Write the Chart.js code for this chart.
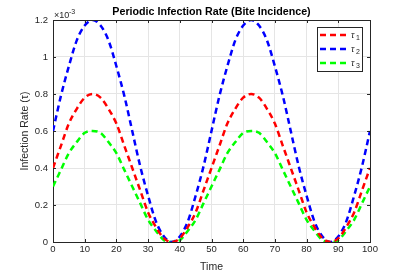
<!DOCTYPE html>
<html>
<head>
<meta charset="utf-8">
<script src="https://cdn.jsdelivr.net/npm/chart.js@4"></script>
<style>
  html, body { margin: 0; padding: 0; background: #fff; }
  #wrap { width: 409px; height: 273px; }
</style>
</head>
<body>
<div id="wrap"><canvas id="c" width="409" height="273"></canvas></div>
<script>
// values in units of 1e-3
const timePoints = [0, 2.5, 5, 7.5, 10, 12.5, 15, 17.5, 20, 22.5, 25, 27.5, 30, 32.5, 35, 37.5, 40, 42.5, 45, 47.5,
                    50, 52.5, 55, 57.5, 60, 62.5, 65, 67.5, 70, 72.5, 75, 77.5, 80, 82.5, 85, 87.5, 90, 92.5, 95, 97.5, 100];
const tau1 = [0.40, 0.52, 0.64, 0.72, 0.78, 0.80, 0.78, 0.72, 0.64, 0.52, 0.40, 0.28, 0.16, 0.08, 0.02, 0.00, 0.02, 0.08, 0.16, 0.28,
              0.40, 0.52, 0.64, 0.72, 0.78, 0.80, 0.78, 0.72, 0.64, 0.52, 0.40, 0.28, 0.16, 0.08, 0.02, 0.00, 0.02, 0.08, 0.16, 0.28, 0.40];
const tau2 = [0.60, 0.79, 0.95, 1.09, 1.17, 1.20, 1.17, 1.09, 0.95, 0.79, 0.60, 0.41, 0.25, 0.11, 0.03, 0.00, 0.03, 0.11, 0.25, 0.41,
              0.60, 0.79, 0.95, 1.09, 1.17, 1.20, 1.17, 1.09, 0.95, 0.79, 0.60, 0.41, 0.25, 0.11, 0.03, 0.00, 0.03, 0.11, 0.25, 0.41, 0.60];
const tau3 = [0.30, 0.39, 0.48, 0.54, 0.59, 0.60, 0.59, 0.54, 0.48, 0.39, 0.30, 0.21, 0.12, 0.06, 0.01, 0.00, 0.01, 0.06, 0.12, 0.21,
              0.30, 0.39, 0.48, 0.54, 0.59, 0.60, 0.59, 0.54, 0.48, 0.39, 0.30, 0.21, 0.12, 0.06, 0.01, 0.00, 0.01, 0.06, 0.12, 0.21, 0.30];
const seriesNames = ['1', '2', '3'];
const seriesColors = ['#ff0000', '#0000ff', '#00ff00'];
const xTicks = [0, 10, 20, 30, 40, 50, 60, 70, 80, 90, 100];
const yTicks = [0, 0.2, 0.4, 0.6, 0.8, 1, 1.2];

const FONT = "'Liberation Sans', Arial, sans-serif";
const AXIS_COLOR = '#262626';

function makeSet(vals, color) {
    return {
        data: vals.map((v, i) => ({ x: timePoints[i], y: v })),
        borderColor: color,
        borderWidth: 2.5,
        borderDash: [6, 4],
        pointRadius: 0,
        tension: 0,
        cubicInterpolationMode: 'monotone',
        fill: false
    };
}

// title, x10^-3 marker, box and legend drawn like the matlab figure
const decor = {
    id: 'decor',
    afterDraw(chart) {
        const ctx = chart.ctx;
        const a = chart.chartArea;
        ctx.save();
        // box top/right
        ctx.strokeStyle = AXIS_COLOR;
        ctx.lineWidth = 1;
        ctx.beginPath();
        ctx.moveTo(a.left, a.top + 0.5);
        ctx.lineTo(a.right + 0.5, a.top + 0.5);
        ctx.lineTo(a.right + 0.5, a.bottom);
        ctx.stroke();
        // inward ticks
        ctx.beginPath();
        const xs = chart.scales.x, ys = chart.scales.y;
        xTicks.forEach(t => {
            const px = Math.round(xs.getPixelForValue(t)) + 0.5;
            ctx.moveTo(px, a.bottom); ctx.lineTo(px, a.bottom - 3);
            ctx.moveTo(px, a.top); ctx.lineTo(px, a.top + 3);
        });
        yTicks.forEach(t => {
            const py = Math.round(ys.getPixelForValue(t)) + 0.5;
            ctx.moveTo(a.left, py); ctx.lineTo(a.left + 3, py);
            ctx.moveTo(a.right, py); ctx.lineTo(a.right - 3, py);
        });
        ctx.stroke();

        // title
        ctx.fillStyle = '#000';
        ctx.font = 'bold 10.7px ' + FONT;
        ctx.textAlign = 'center';
        ctx.textBaseline = 'middle';
        ctx.fillText('Periodic Infection Rate (Bite Incidence)', (a.left + a.right) / 2, 12);

        // exponent
        ctx.fillStyle = AXIS_COLOR;
        ctx.textAlign = 'left';
        ctx.font = '9px ' + FONT;
        ctx.fillText('\u00d710', a.left + 1, 16);
        ctx.font = '7px ' + FONT;
        ctx.fillText('-3', a.left + 16, 12);

        // legend
        const lx = 317, ly = 27, lw = 45, lh = 44;
        ctx.fillStyle = '#fff';
        ctx.fillRect(lx, ly, lw, lh);
        ctx.strokeStyle = '#262626';
        ctx.lineWidth = 1;
        ctx.strokeRect(lx + 0.5, ly + 0.5, lw, lh);
        seriesNames.forEach((n, i) => {
            const yy = 35 + i * 14;
            ctx.strokeStyle = seriesColors[i];
            ctx.lineWidth = 2.5;
            ctx.setLineDash([6, 4]);
            ctx.beginPath();
            ctx.moveTo(320, yy);
            ctx.lineTo(349, yy);
            ctx.stroke();
            ctx.setLineDash([]);
            ctx.fillStyle = AXIS_COLOR;
            ctx.font = 'italic 9px ' + FONT;
            ctx.fillText('\u03c4', 351, yy);
            ctx.font = '7px ' + FONT;
            ctx.fillText(n, 356, yy + 3);
        });
        ctx.restore();
    }
};

new Chart(document.getElementById('c'), {
    type: 'line',
    data: {
        datasets: [makeSet(tau1, seriesColors[0]), makeSet(tau2, seriesColors[1]), makeSet(tau3, seriesColors[2])]
    },
    options: {
        responsive: false,
        animation: false,
        layout: { padding: { top: 20, right: 39, left: 0, bottom: 0 } },
        plugins: { legend: { display: false }, tooltip: { enabled: false } },
        scales: {
            x: {
                type: 'linear',
                min: 0, max: 100,
                afterFit: s => { s.height = 31; },
                afterBuildTicks: s => { s.ticks = xTicks.map(v => ({ value: v })); },
                ticks: { color: AXIS_COLOR, font: { family: FONT, size: 9.5 }, padding: 2, maxRotation: 0 },
                grid: { color: '#e5e5e5', drawTicks: false },
                border: { color: AXIS_COLOR },
                title: { display: true, text: 'Time', color: AXIS_COLOR, font: { family: FONT, size: 10.5 }, padding: { top: 0, bottom: 0 } }
            },
            y: {
                min: 0, max: 1.2,
                afterFit: s => { s.width = 53; },
                afterBuildTicks: s => { s.ticks = yTicks.map(v => ({ value: v })); },
                ticks: { color: AXIS_COLOR, font: { family: FONT, size: 9.5 }, padding: 5, callback: v => String(Math.round(v * 10) / 10) },
                grid: { color: '#e5e5e5', drawTicks: false },
                border: { color: AXIS_COLOR },
                title: { display: true, text: 'Infection Rate (\u03c4)', color: AXIS_COLOR, font: { family: FONT, size: 10.5 }, padding: { top: 19, bottom: 0 } }
            }
        }
    },
    plugins: [decor]
});
</script>
</body>
</html>
